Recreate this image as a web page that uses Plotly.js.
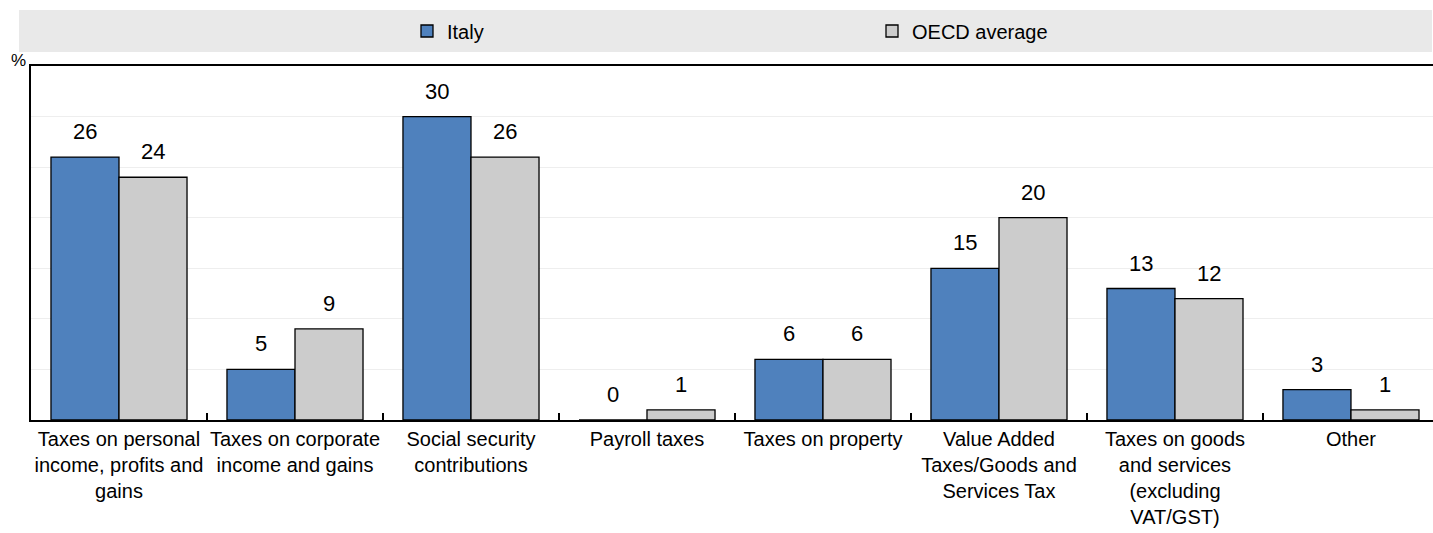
<!DOCTYPE html>
<html>
<head>
<meta charset="utf-8">
<script src="https://cdn.plot.ly/plotly-3.0.1.min.js"></script>
<style>html,body{margin:0;padding:0;background:#fff;}#chart{width:1433px;height:533px;}</style>
</head>
<body>
<div id="chart"></div>
<script>
const categories = [
  "Taxes on personal<br>income, profits and<br>gains",
  "Taxes on corporate<br>income and gains",
  "Social security<br>contributions",
  "Payroll taxes",
  "Taxes on property",
  "Value Added<br>Taxes/Goods and<br>Services Tax",
  "Taxes on goods<br>and services<br>(excluding<br>VAT/GST)",
  "Other"
];
const italyValues = [26, 5, 30, 0, 6, 15, 13, 3];
const oecdValues = [24, 9, 26, 1, 6, 20, 12, 1];
const seriesNames = ["Italy", "OECD average"];

const FONT = "'Liberation Sans', Arial, sans-serif";

const traces = [
  {
    type: "bar", name: seriesNames[0], x: categories, y: italyValues,
    marker: {color: "#4f81bd", line: {color: "#000", width: 1.3}},
    legend: "legend"
  },
  {
    type: "bar", name: seriesNames[1], x: categories, y: oecdValues,
    marker: {color: "#cccccc", line: {color: "#000", width: 1.3}},
    legend: "legend2"
  }
];

// value labels, placed through the axes at each bar's category and value
const labelAnnotations = [];
[[italyValues, -34], [oecdValues, 34]].forEach(([vals, dx]) => {
  vals.forEach((v, i) => {
    labelAnnotations.push({
      x: categories[i], y: v, xref: "x", yref: "y",
      text: String(v), showarrow: false,
      xanchor: "center", yanchor: "bottom", xshift: dx, yshift: 11,
      font: {family: FONT, size: 22, color: "#000"}
    });
  });
});

const W = 1402, H = 354;
const layout = {
  width: 1433, height: 533,
  margin: {l: 31, r: 0, t: 66, b: 113, pad: 0},
  paper_bgcolor: "#fff", plot_bgcolor: "#fff",
  font: {family: FONT, size: 20, color: "#000"},
  barmode: "group", bargap: 0.227, bargroupgap: 0,
  xaxis: {
    type: "category", range: [-0.5, 7.466],
    showline: true, linecolor: "#000", linewidth: 2, mirror: true,
    ticks: "inside", tickson: "boundaries", ticklen: 7, tickcolor: "#000", tickwidth: 1.5,
    tickangle: 0,
    tickfont: {family: FONT, size: 20, color: "#000"},
    showgrid: false, fixedrange: true
  },
  yaxis: {
    range: [0, 35], dtick: 5, showticklabels: false, ticks: "",
    showgrid: true, gridcolor: "#eeeeee", gridwidth: 1,
    showline: true, linecolor: "#000", linewidth: 2,
    zeroline: false, fixedrange: true
  },
  showlegend: true,
  legend: {
    orientation: "h", x: (407 - 31) / W, xanchor: "left", y: (420 - 31) / H, yanchor: "middle",
    bgcolor: "rgba(0,0,0,0)", font: {family: FONT, size: 20, color: "#000"},
    itemwidth: 30
  },
  legend2: {
    orientation: "h", x: (872 - 31) / W, xanchor: "left", y: (420 - 31) / H, yanchor: "middle",
    bgcolor: "rgba(0,0,0,0)", font: {family: FONT, size: 20, color: "#000"},
    itemwidth: 30
  },
  shapes: [
    {type: "rect", xref: "paper", yref: "paper", layer: "below",
     x0: (19 - 31) / W, x1: (1432 - 31) / W, y0: (420 - 52) / H, y1: (420 - 10) / H,
     fillcolor: "#e9e9e9", line: {width: 0}}
  ],
  annotations: labelAnnotations.concat([
    {text: "%", xref: "paper", yref: "paper", x: (18 - 31) / W, y: (420 - 60) / H,
     xanchor: "center", yanchor: "middle", showarrow: false,
     font: {family: FONT, size: 17, color: "#000"}}
  ])
};

Plotly.newPlot("chart", traces, layout, {displayModeBar: false, staticPlot: true});
</script>
</body>
</html>
